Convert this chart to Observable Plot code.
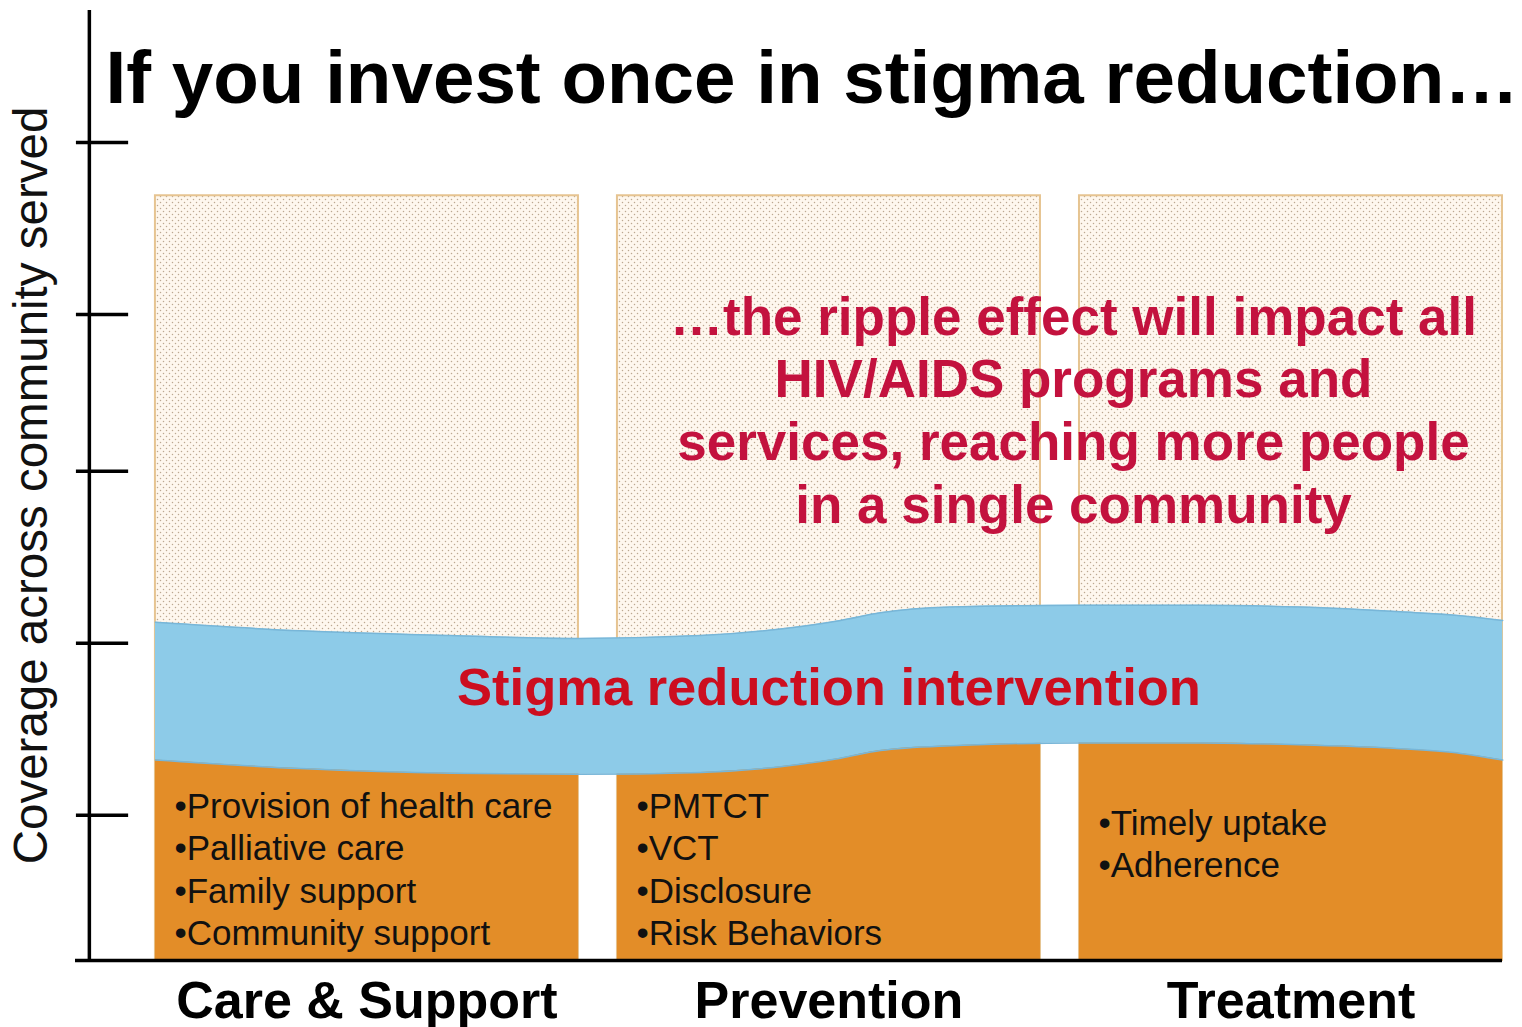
<!DOCTYPE html>
<html>
<head>
<meta charset="utf-8">
<script src="https://cdn.jsdelivr.net/npm/d3@7"></script>
<script src="https://cdn.jsdelivr.net/npm/@observablehq/plot@0.6"></script>
<style>
  html, body { margin: 0; padding: 0; background: #ffffff; }
  #chart svg { display: block; }
</style>
</head>
<body>
<div id="chart"></div>
<script>
// ---------- data ----------
const categories = ["Care & Support", "Prevention", "Treatment"];
const potentialCoverage = [80.5, 80.5, 80.5];      // dotted bars (full potential)
const currentCoverage = [22, 23.5, 23.5];          // orange bars (current programs)
const bulletItems = [
  ["Provision of health care", "Palliative care", "Family support", "Community support"],
  ["PMTCT", "VCT", "Disclosure", "Risk Behaviors"],
  ["Timely uptake", "Adherence"]
];
// stigma reduction band (x in bar-pitch units, y in coverage units)
const bandX      = [0, 0.314, 0.639, 0.916, 1.180, 1.353, 1.483, 1.569, 1.721, 2.000, 2.262, 2.478, 2.695, 2.825, 2.916];
const bandTop    = [35.6, 34.7, 34.2, 33.9, 34.2, 34.9, 35.8, 36.6, 37.2, 37.4, 37.4, 37.2, 36.7, 36.3, 35.8];
const bandBottom = [21.1, 20.2, 19.7, 19.6, 19.8, 20.4, 21.3, 22.1, 22.6, 22.9, 22.9, 22.7, 22.3, 21.8, 21.1];
const yTicks = [15.3, 33.4, 51.5, 68.0, 86.1];

const titleText = "If you invest once in stigma reduction…";
const yLabel = "Coverage across community served";
const bandLabel = "Stigma reduction intervention";
const rippleText = "…the ripple effect will impact all\nHIV/AIDS programs and\nservices, reaching more people\nin a single community";

// ---------- layout ----------
const BAR_W = 0.9156;
const AXIS_X = -0.143;
const X_MIN = -0.173;
const X_MAX = 2.9156;
const FONT = "'Liberation Sans', Arial, Helvetica, sans-serif";

const bars = categories.map((c, i) => ({
  category: c, x1: i, x2: i + BAR_W,
  potential: potentialCoverage[i], current: currentCoverage[i],
  bullets: bulletItems[i].map(b => "•" + b).join("\n")
}));
const band = bandX.map((x, i) => ({x, top: bandTop[i], bottom: bandBottom[i]}));

const svg = Plot.plot({
  width: 1522,
  height: 1027,
  marginTop: 10,
  marginBottom: 67,
  marginLeft: 75,
  marginRight: 20,
  x: {domain: [X_MIN, X_MAX], axis: null},
  y: {domain: [0, 100], axis: null},
  style: {fontFamily: FONT, background: "#ffffff", overflow: "visible"},
  marks: [
    // potential coverage (dotted bars)
    Plot.rectY(bars, {x1: "x1", x2: "x2", y1: 0, y2: "potential", fill: "url(#dots)", stroke: "#e6c491", strokeWidth: 2}),
    // current coverage (orange)
    Plot.rectY(bars, {x1: "x1", x2: "x2", y1: 0, y2: "current", fill: "#e38d28"}),
    // stigma reduction band
    Plot.areaY(band, {x: "x", y1: "bottom", y2: "top", fill: "#8dcbe8", curve: "monotone-x"}),
    Plot.lineY(band, {x: "x", y: "top", stroke: "#78b6d8", strokeWidth: 1.5, curve: "monotone-x"}),
    Plot.lineY(band, {x: "x", y: "bottom", stroke: "#78b6d8", strokeWidth: 1.5, curve: "monotone-x"}),
    // axes
    Plot.ruleX([AXIS_X], {y1: 0, y2: 100, stroke: "#000", strokeWidth: 3.5}),
    Plot.ruleY(yTicks, {x1: -0.171, x2: -0.058, stroke: "#000", strokeWidth: 3.5}),
    Plot.ruleY([0], {x1: X_MIN, x2: X_MAX, stroke: "#000", strokeWidth: 3.5}),
    // bullet lists
    Plot.text(bars, {
      x: "x1", y: d => d.category === "Treatment" ? 16.4 : 18.2,
      text: "bullets", dx: 19, textAnchor: "start", lineAnchor: "top",
      lineHeight: 1.215, fontSize: 35, fill: "#111"
    }),
    // category labels
    Plot.text(bars, {
      x: d => d.x1 + BAR_W / 2, y: 0, text: "category", dy: 57,
      lineAnchor: "bottom", fontSize: 52, fontWeight: "bold", fill: "#000"
    }),
    // band label
    Plot.text([bandLabel], {
      x: () => 1 + BAR_W / 2, y: () => 26.9, lineAnchor: "bottom",
      fontSize: 52.5, fontWeight: "bold", fill: "#cc0e1f"
    }),
    // ripple annotation
    Plot.text([rippleText], {
      x: () => 2, y: () => 46.1, dx: -6, lineAnchor: "bottom", lineHeight: 1.18,
      fontSize: 53, fontWeight: "bold", fill: "#c3123e"
    }),
    // title
    Plot.text([titleText], {
      frameAnchor: "top-left", dx: 30, dy: 69, textAnchor: "start", lineAnchor: "middle",
      fontSize: 74.6, fontWeight: "bold", fill: "#000"
    }),
    // y label
    Plot.text([yLabel], {
      frameAnchor: "left", dx: -44, rotate: -90, textAnchor: "middle", lineAnchor: "middle",
      fontSize: 47.5, fill: "#111"
    })
  ]
});

// dotted pattern for the potential-coverage bars
const defs = d3.select(svg).insert("defs", ":first-child");
const pat = defs.append("pattern")
  .attr("id", "dots").attr("patternUnits", "userSpaceOnUse")
  .attr("width", 6).attr("height", 6);
pat.append("rect").attr("width", 6).attr("height", 6).attr("fill", "#fef7ee");
pat.append("circle").attr("cx", 1.5).attr("cy", 1.5).attr("r", 0.75).attr("fill", "#bca891");
pat.append("circle").attr("cx", 4.5).attr("cy", 4.5).attr("r", 0.75).attr("fill", "#bca891");

document.getElementById("chart").appendChild(svg);
</script>
</body>
</html>
